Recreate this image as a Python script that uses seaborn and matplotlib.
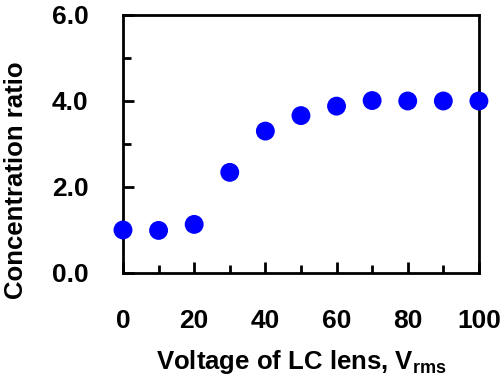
import matplotlib
matplotlib.use("Agg")
import matplotlib.pyplot as plt
import pandas as pd
import seaborn as sns
from matplotlib.ticker import MultipleLocator, FormatStrFormatter

voltage = [0, 10, 20, 30, 40, 50, 60, 70, 80, 90, 100]
ratio = [1.0, 0.99, 1.13, 2.34, 3.30, 3.66, 3.88, 4.01, 4.0, 4.0, 4.0]

df = pd.DataFrame({"voltage": voltage, "ratio": ratio})

sns.set_style("ticks")
plt.rcParams["font.family"] = ["Liberation Sans", "DejaVu Sans"]
plt.rcParams["font.weight"] = "bold"
plt.rcParams["text.color"] = "black"
plt.rcParams["axes.labelcolor"] = "black"
plt.rcParams["mathtext.fontset"] = "custom"
plt.rcParams["mathtext.rm"] = "Liberation Sans:bold"

fig = plt.figure(figsize=(5.02, 3.80), dpi=100)
ax = fig.add_axes([0.245, 0.2816, 0.709, 0.679])

sns.scatterplot(data=df, x="voltage", y="ratio", ax=ax, color="#0000ff",
                s=185, edgecolor="none", zorder=5, clip_on=False)

ax.set_xlim(0, 100)
ax.set_ylim(0, 6)
ax.xaxis.set_major_locator(MultipleLocator(20))
ax.xaxis.set_minor_locator(MultipleLocator(10))
ax.yaxis.set_major_locator(MultipleLocator(2))
ax.yaxis.set_minor_locator(MultipleLocator(1))
ax.yaxis.set_major_formatter(FormatStrFormatter("%.1f"))

for s in ax.spines.values():
    s.set_linewidth(2)
    s.set_color("black")

ax.tick_params(which="both", direction="in", width=2, colors="black")
ax.tick_params(which="major", length=8)
ax.tick_params(which="minor", length=6)
ax.tick_params(axis="x", which="major", labelsize=19, pad=26)
ax.tick_params(axis="y", which="major", labelsize=19, pad=25)
ax.tick_params(right=False, top=False)

ax.set_xlabel(r"Voltage of LC lens, $\mathrm{V_{rms}}$", fontsize=18.5,
              fontweight="bold", color="black")
ax.set_ylabel("Concentration ratio", fontsize=18.5, fontweight="bold",
              color="black")
ax.xaxis.set_label_coords(0.5, -0.29)
ax.yaxis.set_label_coords(-0.267, 0.36)

fig.savefig("out.png", dpi=100)
